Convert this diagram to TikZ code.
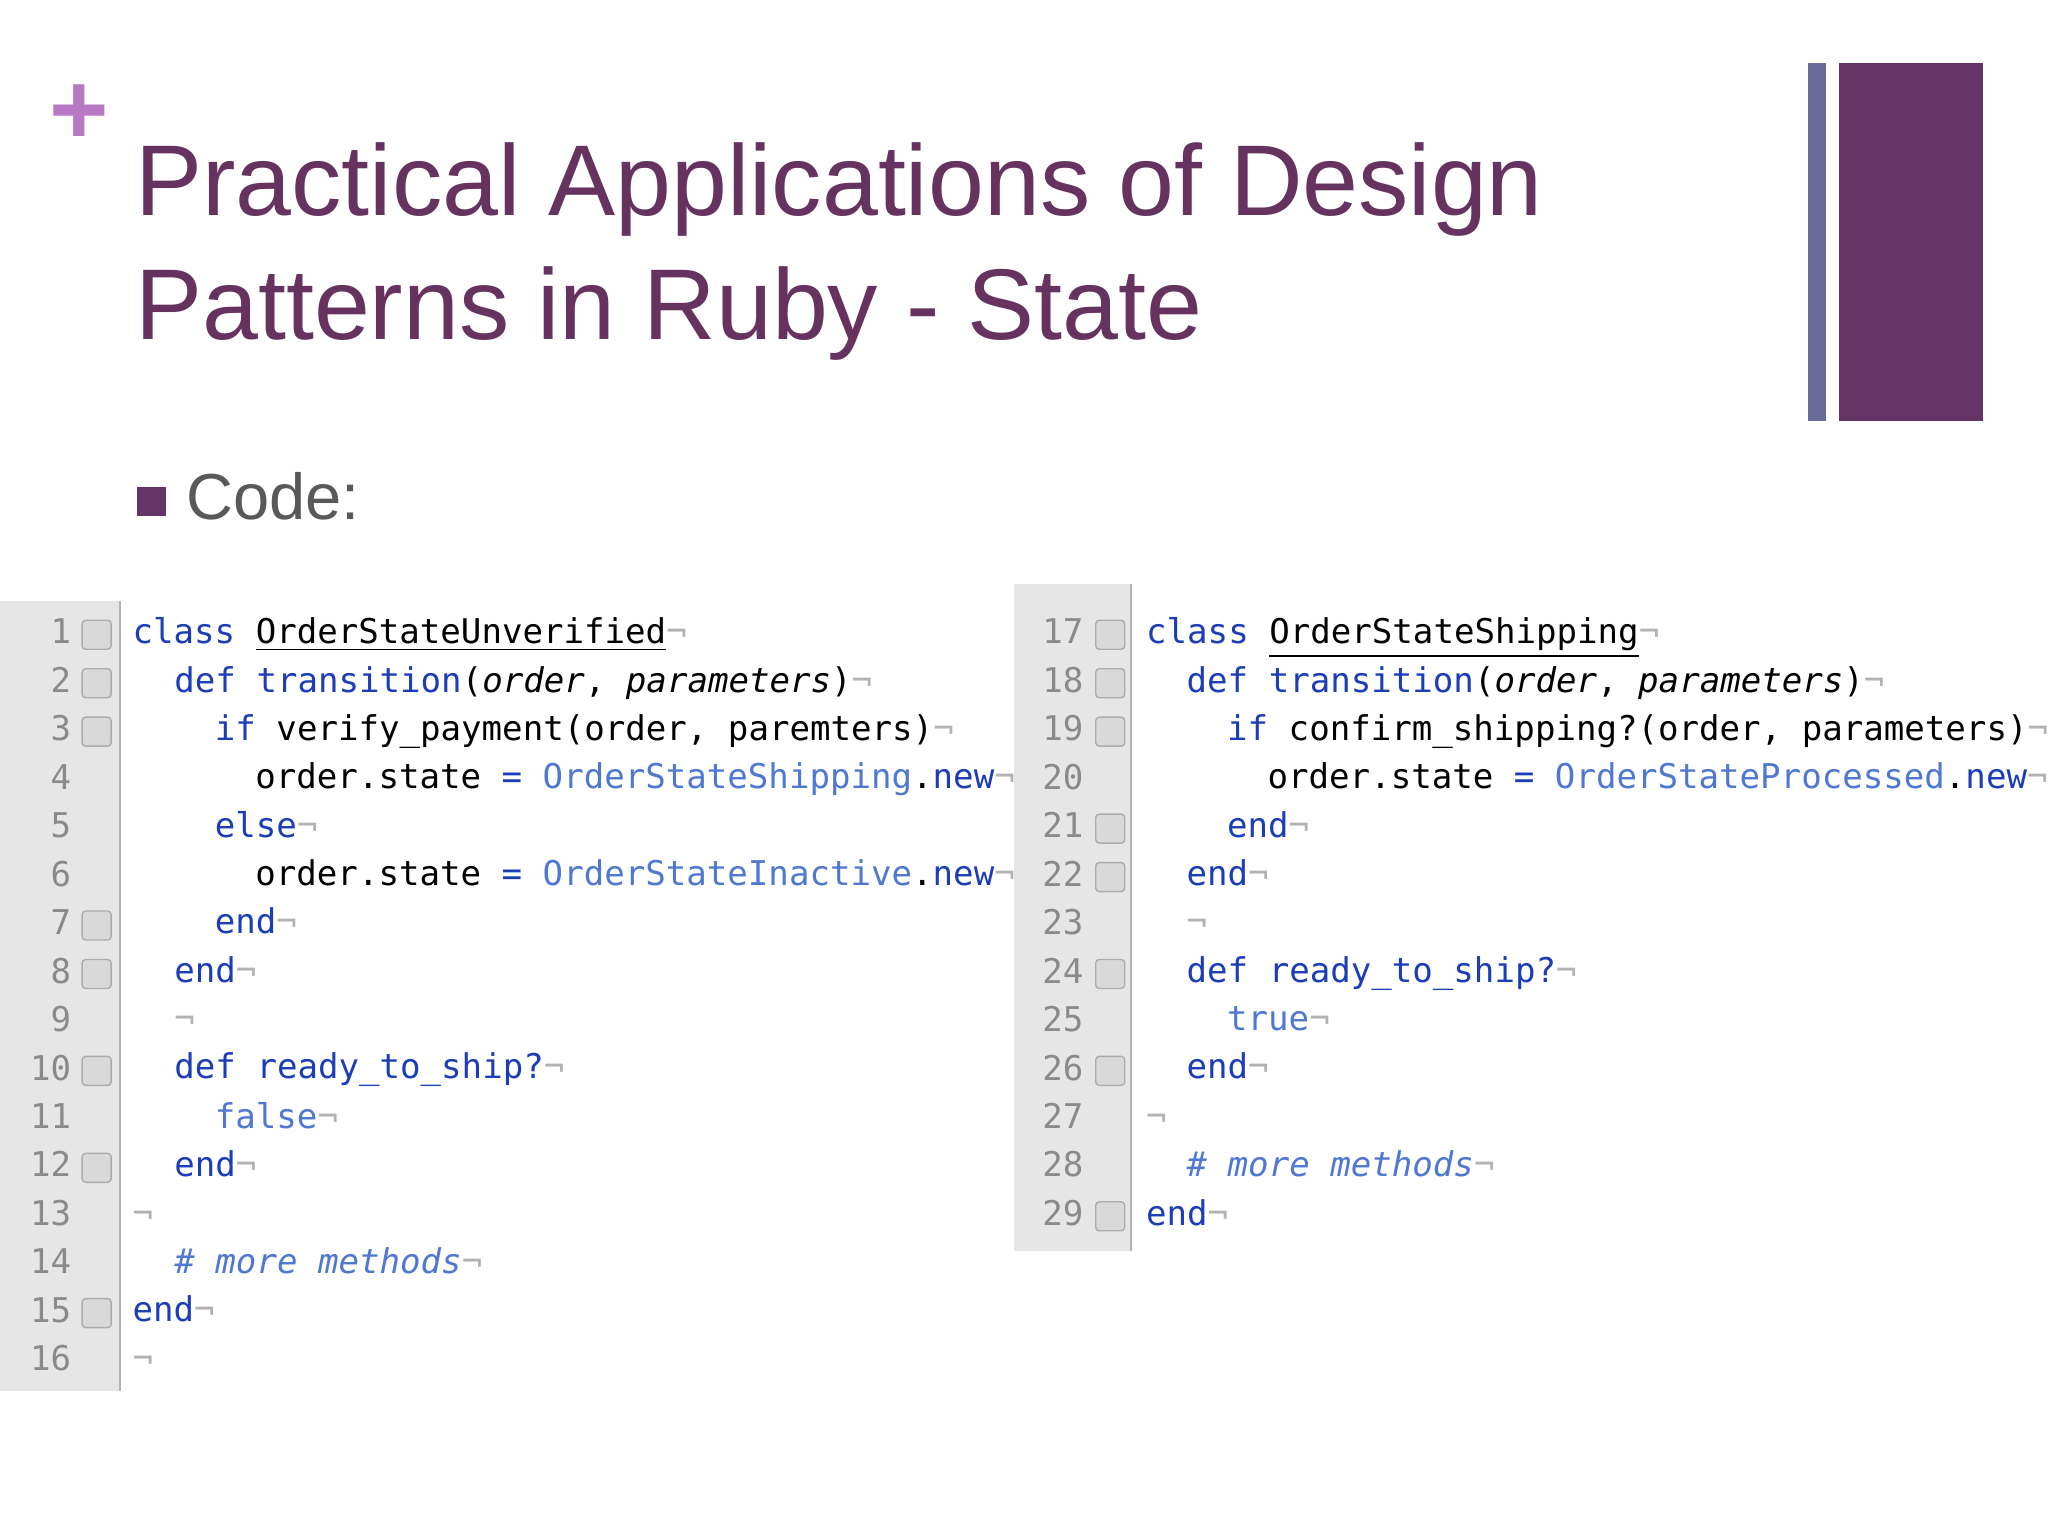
\documentclass[tikz,border=0pt]{standalone}
\usepackage{fontspec}
\setmainfont{Liberation Sans}
\setmonofont{DejaVu Sans Mono}
\definecolor{ttl}{HTML}{66325F}
\definecolor{plusc}{HTML}{B878C4}
\definecolor{barA}{HTML}{6A6A9A}
\definecolor{barB}{HTML}{663366}
\definecolor{kw}{HTML}{1C3DB8}
\definecolor{cst}{HTML}{4F78D2}
\definecolor{gut}{HTML}{E6E6E6}
\definecolor{lnum}{HTML}{8A8A8A}
\newcommand{\pil}{{\color{gray!60}¬}}
\newcommand{\K}[1]{{\color{kw}#1}}
\newcommand{\C}[1]{{\color{cst}#1}}
\begin{document}
\begin{tikzpicture}[x=0.013061cm,y=-0.013061cm,
  code/.style={anchor=base west,inner sep=0,font=\fontsize{9.7}{11}\ttfamily},
  num/.style={anchor=base east,inner sep=0,text=lnum,font=\fontsize{9.7}{11}\ttfamily},
  fold/.style={draw=gray!65,fill=gray!30,rounded corners=1pt,minimum size=11pt,inner sep=0,scale=0.75}]
\useasboundingbox[fill=white] (0,0) rectangle (1568,1176);
% header
\node (plus) at (61,88) {\textcolor{plusc}{\fontsize{29}{29}\selectfont\bfseries +}};
\node[anchor=base west,inner sep=0,text=ttl,font=\fontsize{28.6}{30}\selectfont] (t1) at (103,165) {Practical Applications of Design};
\node[anchor=base west,inner sep=0,text=ttl,font=\fontsize{28.6}{30}\selectfont] (t2) at (103,260) {Patterns in Ruby - State};
\fill[barA] (1384,48) rectangle (1398,322);
\fill[barB] (1408,48) rectangle (1518,322);
\fill[barB] (105,373) rectangle (127,395);
\node[anchor=base west,inner sep=0,text=black!65,font=\fontsize{18.5}{20}\selectfont] (code) at (142,398) {Code:};
% gutters
\fill[gut] (0,460) rectangle (92,1065);
\draw[gray!60] (92,460) -- (92,1065);
\fill[gut] (776,447) rectangle (866,958);
\draw[gray!60] (866,447) -- (866,958);
% left numbers
\foreach \n [count=\i from 0] in {1,...,16} {\node[num] (ln\n) at (55,{493+37.1*\i}) {\n};}
\foreach \n in {1,2,3,7,8,10,12,15} {\node[fold] (lf\n) at (74,{486+37.1*(\n-1)}) {};}
\foreach \n [count=\i from 0] in {17,...,29} {\node[num] (rn\n) at (830,{493+37.1*\i}) {\n};}
\foreach \n in {17,18,19,21,22,24,26,29} {\node[fold] (rf\n) at (850,{486+37.1*(\n-17)}) {};}
% left code
\node[code] (c1) at (101,493) {\K{class} \underline{OrderStateUnverified}\pil};
\node[code] (c2) at (133,530) {\K{def transition}(\textit{order}, \textit{parameters})\pil};
\node[code] (c3) at (164,567) {\K{if} verify\_payment(order, paremters)\pil};
\node[code] (c4) at (195,604) {order.state \K{=} \C{OrderStateShipping}.\K{new}\pil};
\node[code] (c5) at (164,641) {\K{else}\pil};
\node[code] (c6) at (195,678) {order.state \K{=} \C{OrderStateInactive}.\K{new}\pil};
\node[code] (c7) at (164,715) {\K{end}\pil};
\node[code] (c8) at (133,752) {\K{end}\pil};
\node[code] (c9) at (133,789) {\pil};
\node[code] (c10) at (133,826) {\K{def ready\_to\_ship?}\pil};
\node[code] (c11) at (164,864) {\C{false}\pil};
\node[code] (c12) at (133,901) {\K{end}\pil};
\node[code] (c13) at (101,938) {\pil};
\node[code] (c14) at (133,975) {\C{\textit{\# more methods}}\pil};
\node[code] (c15) at (101,1012) {\K{end}\pil};
\node[code] (c16) at (101,1049) {\pil};
% right code
\node[code] (d17) at (877,493) {\K{class} \underline{OrderStateShipping}\pil};
\node[code] (d18) at (908,530) {\K{def transition}(\textit{order}, \textit{parameters})\pil};
\node[code] (d19) at (939,567) {\K{if} confirm\_shipping?(order, parameters)\pil};
\node[code] (d20) at (970,604) {order.state \K{=} \C{OrderStateProcessed}.\K{new}\pil};
\node[code] (d21) at (939,641) {\K{end}\pil};
\node[code] (d22) at (908,678) {\K{end}\pil};
\node[code] (d23) at (908,715) {\pil};
\node[code] (d24) at (908,752) {\K{def ready\_to\_ship?}\pil};
\node[code] (d25) at (939,789) {\C{true}\pil};
\node[code] (d26) at (908,826) {\K{end}\pil};
\node[code] (d27) at (877,864) {\pil};
\node[code] (d28) at (908,901) {\C{\textit{\# more methods}}\pil};
\node[code] (d29) at (877,938) {\K{end}\pil};
\end{tikzpicture}
\end{document}
